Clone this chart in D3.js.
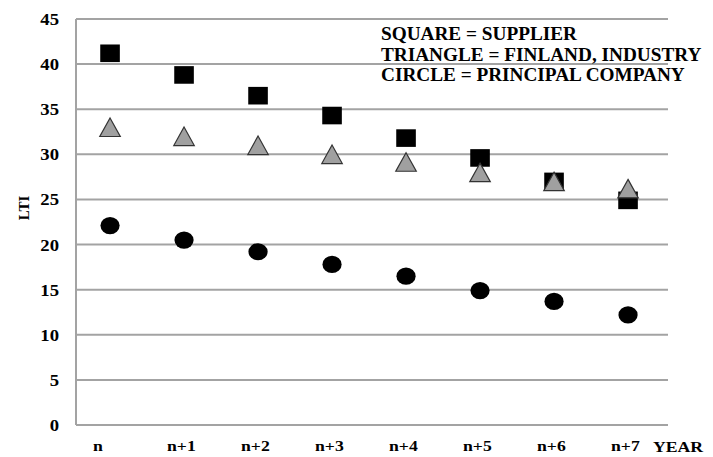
<!DOCTYPE html>
<html>
<head>
<meta charset="utf-8">
<script src="https://cdn.jsdelivr.net/npm/d3@7"></script>
<style>
  body { margin: 0; background: #fff; }
  text { font-family: "Liberation Serif", "Times New Roman", serif; font-weight: bold; fill: #000; }
</style>
</head>
<body>
<div id="chart"></div>
<script>
// LTI by year
var years = ["n", "n+1", "n+2", "n+3", "n+4", "n+5", "n+6", "n+7"];
var supplier = [41.2, 38.8, 36.5, 34.3, 31.8, 29.6, 27.0, 24.9];   // square
var finland = [33.0, 32.0, 31.0, 30.0, 29.15, 28.0, 27.0, 26.2];    // triangle
var principal = [22.1, 20.5, 19.2, 17.8, 16.5, 14.9, 13.7, 12.2];  // circle
var yTicks = [0, 5, 10, 15, 20, 25, 30, 35, 40, 45];
var legendLines = ["SQUARE = SUPPLIER", "TRIANGLE = FINLAND, INDUSTRY", "CIRCLE = PRINCIPAL COMPANY"];

var width = 713, height = 457;
var margin = { left: 76, right: 45, top: 19, bottom: 32 };

var svg = d3.select("#chart").append("svg")
	.attr("width", width).attr("height", height);

var x = d3.scalePoint()
	.domain(years)
	.range([margin.left, width - margin.right])
	.padding(0.5)
	.align(0.46);

var y = d3.scaleLinear()
	.domain([0, 45])
	.range([height - margin.bottom, margin.top]);

var gridColor = "#a3a3a3";

// gridlines
svg.append("g").selectAll("line")
	.data(yTicks)
	.enter().append("line")
	.attr("x1", margin.left).attr("x2", width - margin.right)
	.attr("y1", function(d) { return y(d); })
	.attr("y2", function(d) { return y(d); })
	.attr("stroke", gridColor).attr("stroke-width", 2);

// left axis line
svg.append("line")
	.attr("x1", margin.left).attr("x2", margin.left)
	.attr("y1", y(45)).attr("y2", y(0))
	.attr("stroke", gridColor).attr("stroke-width", 2);

// y tick labels
svg.append("g").selectAll("text")
	.data(yTicks)
	.enter().append("text")
	.attr("text-anchor", "end")
	.attr("transform", function(d) { return "translate(59," + (y(d) + 6) + ") scale(1.1,1)"; })
	.style("font-size", "17px")
	.text(function(d) { return d; });

// x labels
svg.append("g").selectAll("text")
	.data(years)
	.enter().append("text")
	.attr("transform", function(d) { return "translate(" + (x(d) - 17) + ",451) scale(1.18,1)"; })
	.style("font-size", "15px")
	.text(function(d) { return d; });

svg.append("text")
	.attr("transform", "translate(653,452) scale(1.18,1)")
	.style("font-size", "15px")
	.text("YEAR");

svg.append("text")
	.attr("transform", "translate(29,208) rotate(-90)")
	.attr("text-anchor", "middle")
	.style("font-size", "15px")
	.text("LTI");

// legend
svg.append("g").selectAll("text")
	.data(legendLines)
	.enter().append("text")
	.attr("transform", function(d, i) { return "translate(381," + (40 + i * 20.7) + ") scale(1.07,1)"; })
	.style("font-size", "18px")
	.text(function(d) { return d; });

// circles
svg.append("g").selectAll("ellipse")
	.data(principal)
	.enter().append("ellipse")
	.attr("cx", function(d, i) { return x(years[i]); })
	.attr("cy", function(d) { return y(d); })
	.attr("rx", 9.6).attr("ry", 8.6)
	.attr("fill", "#000");

// squares
svg.append("g").selectAll("rect")
	.data(supplier)
	.enter().append("rect")
	.attr("x", function(d, i) { return x(years[i]) - 9.8; })
	.attr("y", function(d) { return y(d) - 8.8; })
	.attr("width", 19.6).attr("height", 17.6)
	.attr("fill", "#000");

// triangles (drawn centred on bounding box)
var tw = 20.5, th = 18.5;
svg.append("g").selectAll("path")
	.data(finland)
	.enter().append("path")
	.attr("d", function(d, i) {
		var cx = x(years[i]), cy = y(d);
		return "M" + cx + "," + (cy - th / 2) +
			"L" + (cx + tw / 2) + "," + (cy + th / 2) +
			"L" + (cx - tw / 2) + "," + (cy + th / 2) + "Z";
	})
	.attr("fill", "#a0a0a0")
	.attr("stroke", "#333")
	.attr("stroke-width", 1.2)
	.attr("stroke-linejoin", "miter");
</script>
</body>
</html>
